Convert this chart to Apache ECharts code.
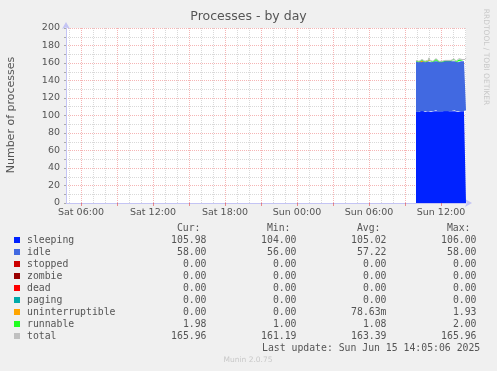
<!DOCTYPE html>
<html><head><meta charset="utf-8">
<script src="https://cdn.jsdelivr.net/npm/echarts@6/dist/echarts.min.js"></script>
<style>html,body{margin:0;padding:0;background:#f0f0f0;}#c{width:497px;height:371px;}</style>
</head><body><div id="c"></div>
<script>
// Time slots: minutes since Sat 00:00, 5-minute steps
const axisStartMin = 4 * 60 + 45;     // Sat 04:45
const axisEndMin = 38 * 60 + 5;       // Sun 14:05
const dataStartMin = 33 * 60 + 55;    // Sun 09:55
const stepMin = 5;

const sleeping = [105,105,104,104,105,105,106,105,105,104,105,105,105,106,105,104,105,105,105,105,106,105,105,104,105,105,105,105,104,105,106,105,105,105,104,105,105,105,106,105,105,105,104,105,105,105,106,105,105,105,105.98];
const idle     = [57,57,58,57,57,56,57,58,57,57,57,58,57,57,57,57,58,56,57,57,57,57,58,57,57,57,56,57,58,57,57,57,57,58,57,57,57,57,58,57,56,57,57,57,58,57,57,57,57,58,58];
const stopped  = [0,0,0,0,0,0,0,0,0,0,0,0,0,0,0,0,0,0,0,0,0,0,0,0,0,0,0,0,0,0,0,0,0,0,0,0,0,0,0,0,0,0,0,0,0,0,0,0,0,0,0];
const zombie   = stopped.slice();
const dead     = stopped.slice();
const paging   = stopped.slice();
const uninterruptible = [0,0,0,0,0,0,0,0,0,0,0,0,0,1.93,0,0,0,0,0,0,0,0,0,0,0,0,0,0,0,0,0,1,0,0,0,0,0,0,0,0,0,0,0,0,0,0,0,0,0,0,0];
const runnable = [1,1,1,1,1,1,1,2,1,1,1,1,1,1,1,1,1,1,1,1,2,1,1,1,1,1,1,1,1,1,1,1,1,1,1,1,1,1,1,1,1,1,1,2,1,1,1,1,1,1,1.98];
const total    = [163,163,163,162,163,162,164,165,163,162,163,164,163,165.93,163,162,164,162,163,163,165,163,164,162,163,163,162,163,163,163,164,164,163,164,162,163,163,163,165,163,162,163,163,165,164,163,164,163,163,164,165.96];

const legendNames = ['sleeping','idle','stopped','zombie','dead','paging','uninterruptible','runnable','total'];
const legendColors = ['#0022ff','#4169e1','#cc0000','#990000','#ff0000','#00aaaa','#ffa500','#22ff22','#c0c0c0'];
const curVals = ['105.98','58.00','0.00','0.00','0.00','0.00','0.00','1.98','165.96'];
const minVals = ['104.00','56.00','0.00','0.00','0.00','0.00','0.00','1.00','161.19'];
const avgVals = ['105.02','57.22','0.00','0.00','0.00','0.00','78.63m','1.08','163.39'];
const maxVals = ['106.00','58.00','0.00','0.00','0.00','0.00','1.93','2.00','165.96'];
const lastUpdate = 'Last update: Sun Jun 15 14:05:06 2025';

// Category slots (built from the constants above)
const slotMinutes = [];
for (let m = axisStartMin; m <= axisEndMin; m += stepMin) slotMinutes.push(m);
function fmtMin(m) {
  const day = m < 1440 ? 'Sat' : 'Sun';
  const mm = m % 1440;
  return day + ' ' + String(Math.floor(mm / 60)).padStart(2, '0') + ':' + String(mm % 60).padStart(2, '0');
}
const categories = slotMinutes.map(fmtMin);
const offset = (dataStartMin - axisStartMin) / stepMin;
function fill(arr) { return slotMinutes.map((_, i) => (i >= offset && i - offset < arr.length) ? arr[i - offset] : null); }
const isMajor = i => slotMinutes[i] % 180 === 0;
const isLabel = i => slotMinutes[i] % 360 === 0;
const isMinor = i => slotMinutes[i] % 60 === 0 && slotMinutes[i] % 180 !== 0;

const chart = echarts.init(document.getElementById('c'), null, {renderer: 'canvas'});
const mono = 'DejaVu Sans Mono';
const sans = 'DejaVu Sans';
const txtColor = '#555';
const majorColor = 'rgba(230,60,60,0.38)';
const minorColor = 'rgba(120,120,120,0.28)';

const stackSeries = [
  ['sleeping', sleeping, 0], ['idle', idle, 1], ['stopped', stopped, 2], ['zombie', zombie, 3],
  ['dead', dead, 4], ['paging', paging, 5], ['uninterruptible', uninterruptible, 6], ['runnable', runnable, 7]
].map(([name, arr, ci]) => ({
  name, type: 'line', stack: 'p', xAxisIndex: 0, yAxisIndex: 0,
  data: fill(arr), showSymbol: false, symbol: 'none',
  lineStyle: {width: 0}, areaStyle: {color: legendColors[ci], opacity: 1}, z: 2,
  silent: true, animation: false
}));

const graphics = [];
graphics.push({type: 'text', left: 'center', top: 10, style: {text: 'Processes - by day', font: '12.5px ' + sans, fill: '#555'}});
graphics.push({type: 'text', x: 11, y: 115, rotation: Math.PI / 2, style: {text: 'Number of processes', font: '11px ' + sans, fill: '#555', align: 'center', verticalAlign: 'middle'}});
graphics.push({type: 'text', x: 486, y: 57, rotation: -Math.PI / 2, style: {text: 'RRDTOOL / TOBI OETIKER', font: '7.5px ' + sans, fill: '#c8c8c8', align: 'center', verticalAlign: 'middle'}});
graphics.push({type: 'text', x: 248, y: 360, style: {text: 'Munin 2.0.75', font: '7.5px ' + sans, fill: '#c8c8c8', align: 'center', verticalAlign: 'middle'}});

const colRight = [206.5, 296.5, 386.5, 476.5];
const headers = ['Cur:', 'Min:', 'Avg:', 'Max:'];
headers.forEach((h, i) => graphics.push({type: 'text', x: colRight[i] - 6, y: 228, style: {text: h, font: '9.8px ' + mono, fill: txtColor, align: 'right', verticalAlign: 'middle'}}));
legendNames.forEach((n, r) => {
  const y = 240 + r * 12;
  graphics.push({type: 'rect', shape: {x: 14, y: y - 3, width: 6, height: 6}, style: {fill: legendColors[r]}});
  graphics.push({type: 'text', x: 27, y, style: {text: n, font: '9.8px ' + mono, fill: txtColor, verticalAlign: 'middle'}});
  [curVals, minVals, avgVals, maxVals].forEach((col, i) => graphics.push({type: 'text', x: colRight[i], y, style: {text: col[r], font: '9.8px ' + mono, fill: txtColor, align: 'right', verticalAlign: 'middle'}}));
});
graphics.push({type: 'text', x: 262, y: 348, style: {text: lastUpdate, font: '9.8px ' + mono, fill: txtColor, verticalAlign: 'middle'}});

const axisLineStyle = {color: '#c4c4f4', width: 1};

const option = {
  backgroundColor: '#f0f0f0',
  animation: false,
  grid: {left: 66, top: 28, width: 400, height: 175, backgroundColor: '#ffffff', show: true, borderWidth: 0},
  xAxis: [
    {
      type: 'category', data: categories, boundaryGap: false, position: 'bottom',
      axisLine: {show: false},
      axisTick: {show: true, interval: (i) => isMajor(i), length: 3, inside: false, lineStyle: {color: 'rgba(225,40,40,0.5)'}},
      axisLabel: {show: true, interval: (i) => isLabel(i), color: txtColor, fontFamily: sans, fontSize: 9.5, margin: 5, hideOverlap: false},
      splitLine: {show: true, interval: (i) => isMajor(i), lineStyle: {color: majorColor, type: [1, 1], width: 1}}
    },
    {
      type: 'category', data: categories, boundaryGap: false, position: 'bottom',
      axisLine: {show: true, symbol: ['none', 'arrow'], symbolSize: [6, 7], symbolOffset: [0, 6], lineStyle: axisLineStyle},
      axisTick: {show: false},
      axisLabel: {show: false},
      splitLine: {show: true, interval: (i) => isMinor(i), lineStyle: {color: minorColor, type: [1, 1], width: 1}}
    }
  ],
  yAxis: {
    type: 'value', min: 0, max: 200, interval: 20,
    axisLine: {show: true, symbol: ['none', 'arrow'], symbolSize: [6, 7], symbolOffset: [0, 6], lineStyle: axisLineStyle},
    axisTick: {show: true, length: 2, lineStyle: {color: '#aaa'}},
    minorTick: {show: true, splitNumber: 2, length: 2, lineStyle: {color: '#aaa'}},
    axisLabel: {color: txtColor, fontFamily: sans, fontSize: 9.5, margin: 6},
    splitLine: {show: true, lineStyle: {color: majorColor, type: [1, 1], width: 1}},
    minorSplitLine: {show: true, lineStyle: {color: minorColor, type: [1, 1], width: 1}}
  },
  series: stackSeries.concat([{
    name: 'total', type: 'line', xAxisIndex: 0, yAxisIndex: 0, data: fill(total), showSymbol: false, symbol: 'none',
    lineStyle: {color: '#c0c0c0', width: 1}, z: 3, silent: true, animation: false
  }]),
  graphic: graphics
};
chart.setOption(option);
</script></body></html>
